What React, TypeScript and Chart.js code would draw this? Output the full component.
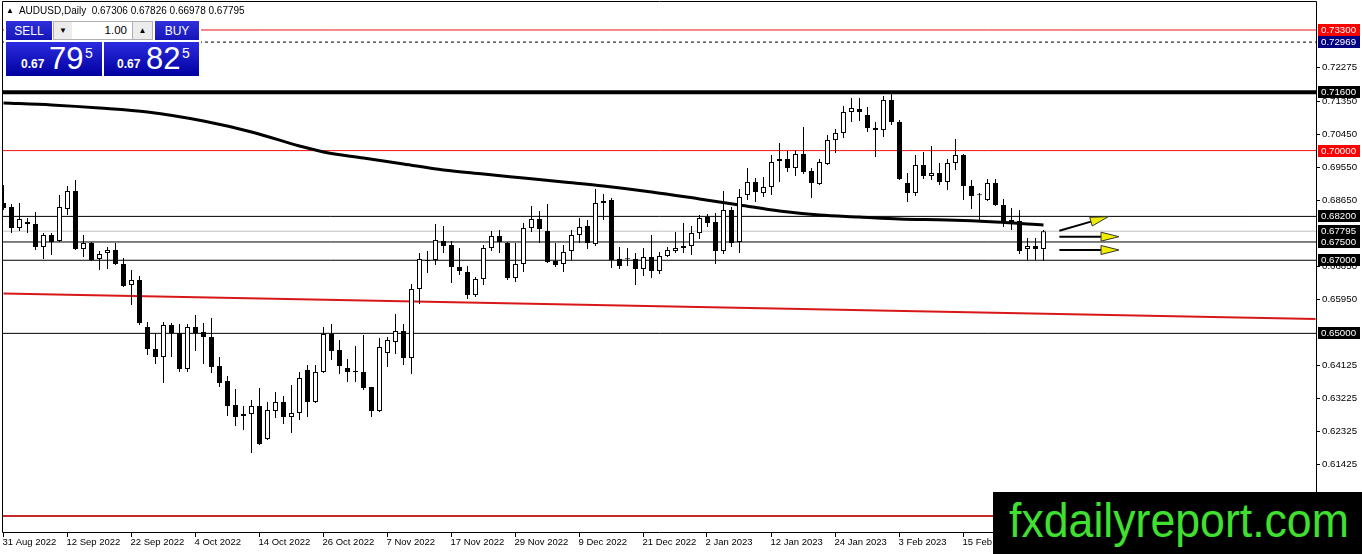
import React, { useEffect, useRef } from "react";
import { Chart, registerables } from "chart.js";
Chart.register(...registerables);

// ---------- data ----------
const dateLabels = [
  "31 Aug 2022", "12 Sep 2022", "22 Sep 2022", "4 Oct 2022", "14 Oct 2022", "26 Oct 2022",
  "7 Nov 2022", "17 Nov 2022", "29 Nov 2022", "9 Dec 2022", "21 Dec 2022", "2 Jan 2023",
  "12 Jan 2023", "24 Jan 2023", "3 Feb 2023", "15 Feb 2023",
];
const labelEvery = 8;

const opens = [
  0.68567, 0.68457, 0.67883, 0.68047, 0.67992, 0.67363, 0.67691, 0.67527, 0.68403, 0.68895,
  0.67308, 0.67473, 0.67035, 0.67199, 0.67281, 0.66898, 0.66323, 0.66460, 0.65174, 0.64572,
  0.64354, 0.65229, 0.65010, 0.64025, 0.65174, 0.65037, 0.64901, 0.64107, 0.63697, 0.63040,
  0.62794, 0.62794, 0.63013, 0.62110, 0.62876, 0.63122, 0.62712, 0.62821, 0.63998, 0.63122,
  0.63943, 0.64983, 0.64545, 0.64053, 0.63970, 0.63943, 0.63533, 0.62876, 0.64463, 0.64764,
  0.65065, 0.64326, 0.66214, 0.66980, 0.67007, 0.67527, 0.67418, 0.66816, 0.66679, 0.66050,
  0.66488, 0.67336, 0.67664, 0.67473, 0.66515, 0.66898, 0.67883, 0.68129, 0.67801, 0.66980,
  0.66898, 0.67254, 0.67691, 0.67938, 0.67445, 0.68567, 0.68649, 0.67035, 0.67035, 0.67035,
  0.66761, 0.67089, 0.66706, 0.67117, 0.67254, 0.67336, 0.67390, 0.67746, 0.68184, 0.68047,
  0.67254, 0.68375, 0.67500, 0.68786, 0.69142, 0.68841, 0.69005, 0.69771, 0.69771, 0.69525,
  0.69908, 0.69442, 0.69087, 0.69634, 0.70291, 0.70482, 0.71057, 0.71139, 0.70975, 0.70619,
  0.70564, 0.71385, 0.70783, 0.69114, 0.68841, 0.69607, 0.69306, 0.69388, 0.69142, 0.69661,
  0.69880, 0.69032, 0.68786, 0.68649, 0.69114, 0.68512, 0.68102, 0.68074, 0.67308, 0.67390,
  0.67306,
];
const highs = [
  0.69059, 0.68540, 0.68567, 0.68157, 0.68321, 0.67746, 0.67746, 0.68786, 0.69032, 0.69196,
  0.67691, 0.67500, 0.67254, 0.67363, 0.67473, 0.67062, 0.66734, 0.66570, 0.65311, 0.65010,
  0.65311, 0.65284, 0.65256, 0.65256, 0.65503, 0.65284, 0.65421, 0.64354, 0.63834, 0.63478,
  0.63013, 0.63177, 0.63505, 0.63122, 0.63396, 0.63286, 0.63587, 0.63943, 0.64135, 0.64135,
  0.65174, 0.65256, 0.64819, 0.64299, 0.64654, 0.64955, 0.63533, 0.64873, 0.64901, 0.65530,
  0.65256, 0.66351, 0.67199, 0.67254, 0.67992, 0.67938, 0.67527, 0.67336, 0.66843, 0.66542,
  0.67418, 0.67801, 0.67828, 0.67500, 0.67473, 0.68020, 0.68485, 0.68348, 0.68540, 0.67473,
  0.67418, 0.67828, 0.68157, 0.68102, 0.68950, 0.68813, 0.68704, 0.67363, 0.67336, 0.67199,
  0.67336, 0.67691, 0.67226, 0.67363, 0.67774, 0.68020, 0.67938, 0.68239, 0.68266, 0.68293,
  0.68895, 0.68457, 0.68950, 0.69525, 0.69251, 0.69278, 0.69880, 0.70209, 0.69990, 0.70017,
  0.70646, 0.69525, 0.69771, 0.70427, 0.70592, 0.71221, 0.71440, 0.71440, 0.71193, 0.70783,
  0.71494, 0.71604, 0.70838, 0.69388, 0.69880, 0.69962, 0.70126, 0.69661, 0.69771, 0.70318,
  0.69908, 0.69196, 0.68841, 0.69224, 0.69224, 0.68676, 0.68430, 0.68375, 0.67609, 0.67609,
  0.67826,
];
const lows = [
  0.68375, 0.67746, 0.67801, 0.67746, 0.67281, 0.67035, 0.67144, 0.67500, 0.68239, 0.67281,
  0.67089, 0.66980, 0.66734, 0.66761, 0.66871, 0.66269, 0.65776, 0.65229, 0.64408, 0.64162,
  0.63642, 0.64354, 0.63943, 0.63943, 0.64518, 0.64162, 0.63916, 0.63533, 0.62739, 0.62466,
  0.62356, 0.61727, 0.61946, 0.62083, 0.62685, 0.62520, 0.62274, 0.62630, 0.62712, 0.63095,
  0.63916, 0.64271, 0.63888, 0.63670, 0.63670, 0.63451, 0.62712, 0.62849, 0.64080, 0.64436,
  0.64135, 0.63888, 0.65804, 0.66652, 0.66871, 0.67199, 0.66378, 0.66597, 0.65940, 0.65995,
  0.66323, 0.67254, 0.67199, 0.66460, 0.66405, 0.66679, 0.67774, 0.67473, 0.66925, 0.66816,
  0.66679, 0.67007, 0.67473, 0.67308, 0.67390, 0.68102, 0.66789, 0.66761, 0.66843, 0.66323,
  0.66570, 0.66515, 0.66624, 0.67089, 0.67199, 0.67199, 0.67144, 0.67582, 0.67910, 0.66898,
  0.67172, 0.67363, 0.67199, 0.68649, 0.68594, 0.68731, 0.68786, 0.69142, 0.69415, 0.69306,
  0.69360, 0.68704, 0.69059, 0.69607, 0.69935, 0.70345, 0.70783, 0.70810, 0.70510, 0.69825,
  0.70373, 0.70701, 0.69196, 0.68594, 0.68758, 0.69224, 0.69196, 0.69059, 0.68923, 0.69470,
  0.68649, 0.68403, 0.68074, 0.68622, 0.68485, 0.67910, 0.67828, 0.67172, 0.67007, 0.67007,
  0.66978,
];
const closes = [
  0.68430, 0.67883, 0.68129, 0.67992, 0.67363, 0.67691, 0.67500, 0.68457, 0.68895, 0.67308,
  0.67473, 0.67007, 0.67172, 0.67281, 0.66898, 0.66296, 0.66460, 0.65284, 0.64572, 0.64354,
  0.65229, 0.65010, 0.64025, 0.65174, 0.65010, 0.64901, 0.64080, 0.63642, 0.63013, 0.62712,
  0.62739, 0.63013, 0.61973, 0.62903, 0.63122, 0.62712, 0.62821, 0.63779, 0.63122, 0.63943,
  0.64983, 0.64518, 0.64107, 0.63943, 0.63943, 0.63505, 0.62876, 0.64627, 0.64819, 0.65065,
  0.64326, 0.66214, 0.67035, 0.67007, 0.67555, 0.67390, 0.66816, 0.66706, 0.66050, 0.66488,
  0.67336, 0.67664, 0.67500, 0.66515, 0.66898, 0.67883, 0.68129, 0.67856, 0.66953, 0.66871,
  0.67226, 0.67691, 0.67910, 0.67473, 0.68567, 0.68622, 0.67007, 0.66843, 0.67030, 0.66761,
  0.67089, 0.66706, 0.67117, 0.67281, 0.67336, 0.67390, 0.67746, 0.68157, 0.68020, 0.67254,
  0.68375, 0.67473, 0.68731, 0.69142, 0.68868, 0.69005, 0.69689, 0.69716, 0.69525, 0.69908,
  0.69415, 0.69114, 0.69689, 0.70291, 0.70482, 0.71057, 0.71166, 0.71057, 0.70619, 0.70564,
  0.71385, 0.70783, 0.69224, 0.68841, 0.69607, 0.69306, 0.69388, 0.69142, 0.69661, 0.69880,
  0.69032, 0.68758, 0.68780, 0.69114, 0.68512, 0.68047, 0.68047, 0.67254, 0.67390, 0.67308,
  0.67795,
];

// slow moving average (black), sampled at bar indexes
const maBars = [0, 6, 12, 18, 25, 31, 37, 40, 45, 50, 55, 60, 65, 70, 75, 81, 87, 92, 97, 102, 107, 112, 118, 124, 130];
const maValues = [
  0.71303, 0.71248, 0.71166, 0.71057, 0.70810, 0.70510, 0.70126, 0.69962, 0.69798, 0.69634,
  0.69470, 0.69360, 0.69251, 0.69142, 0.69032, 0.68868, 0.68676, 0.68512, 0.68348, 0.68239,
  0.68184, 0.68129, 0.68102, 0.68047, 0.67965,
];

// red trend line
const trendBars = [0, 164];
const trendValues = [0.66091, 0.65394];

// horizontal levels
const levelValues = [0.733, 0.72969, 0.716, 0.7, 0.682, 0.67795, 0.675, 0.67, 0.65, 0.6];

// right axis tick labels
const yTickValues = [0.72275, 0.7135, 0.7045, 0.6955, 0.6865, 0.6685, 0.6595, 0.64125, 0.63225, 0.62325, 0.61425];
const boxValues = [0.733, 0.72969, 0.716, 0.7, 0.682, 0.67795, 0.675, 0.67, 0.65];

// arrows [startBar, startPrice, tipBar, tipPrice]
const arrowStartBars = [131.98, 131.98, 131.98];
const arrowStartPrices = [0.67809, 0.67645, 0.67281];
const arrowTipBars = [138.1, 139.44, 139.44];
const arrowTipPrices = [0.68192, 0.67645, 0.67281];

// header
const symbolText = "AUDUSD,Daily";
const ohlcText = "0.67306 0.67826 0.66978 0.67795";

// ---------- styles ----------
const levelStyles = [
  { c: "#ee1111", w: 1, d: [] as number[] },
  { c: "#000000", w: 1, d: [3, 3] },
  { c: "#000000", w: 4, d: [] },
  { c: "#ee1111", w: 1, d: [] },
  { c: "#000000", w: 1, d: [] },
  { c: "#c0c0c0", w: 1, d: [] },
  { c: "#000000", w: 1, d: [] },
  { c: "#000000", w: 1, d: [] },
  { c: "#000000", w: 1, d: [] },
  { c: "#c42a2a", w: 2, d: [] },
];
const boxColors = ["#ff0000", "#000080", "#000000", "#ff0000", "#000000", "#000000", "#000000", "#000000", "#000000"];
const FONT = "'Liberation Sans', Arial, sans-serif";

const X_MIN = -0.0625;
const X_MAX = 164.0625;
const Y_MIN = 0.59565;
const Y_MAX = 0.74066;

const mtPlugin = {
  id: "mtPlugin",
  afterDatasetsDraw(chart: any) {
    const { ctx, scales } = chart;
    const xs = scales.x;
    const ys = scales.y;
    ctx.save();
    for (let i = 0; i < arrowStartBars.length; i++) {
      const x0 = xs.getPixelForValue(arrowStartBars[i]);
      const y0 = ys.getPixelForValue(arrowStartPrices[i]);
      const x1 = xs.getPixelForValue(arrowTipBars[i]);
      const y1 = ys.getPixelForValue(arrowTipPrices[i]);
      const ang = Math.atan2(y1 - y0, x1 - x0);
      const L = 18;
      const W = 4.5;
      const bx = x1 - L * Math.cos(ang);
      const by = y1 - L * Math.sin(ang);
      ctx.strokeStyle = "#000";
      ctx.lineWidth = 2;
      ctx.beginPath();
      ctx.moveTo(x0, y0);
      ctx.lineTo(bx, by);
      ctx.stroke();
      ctx.beginPath();
      ctx.moveTo(x1, y1);
      ctx.lineTo(bx - W * Math.sin(ang), by + W * Math.cos(ang));
      ctx.lineTo(bx + W * Math.sin(ang), by - W * Math.cos(ang));
      ctx.closePath();
      ctx.fillStyle = "#f0ee00";
      ctx.fill();
      ctx.lineWidth = 1;
      ctx.strokeStyle = "#333";
      ctx.stroke();
    }
    ctx.restore();
  },
  afterDraw(chart: any) {
    const { ctx, chartArea: a, scales } = chart;
    const xs = scales.x;
    const ys = scales.y;
    ctx.save();
    // frame
    ctx.strokeStyle = "#000";
    ctx.lineWidth = 1;
    ctx.beginPath();
    ctx.moveTo(a.left - 0.5, a.top - 0.5);
    ctx.lineTo(a.left - 0.5, a.bottom + 0.5);
    ctx.lineTo(a.right + 0.5, a.bottom + 0.5);
    ctx.lineTo(a.right + 0.5, a.top - 0.5);
    ctx.closePath();
    ctx.stroke();

    // x labels
    ctx.font = `9.5px ${FONT}`;
    ctx.fillStyle = "#000";
    ctx.textAlign = "left";
    ctx.textBaseline = "middle";
    dateLabels.forEach((lab, j) => {
      const px = Math.round(xs.getPixelForValue(j * labelEvery)) - 0.5;
      ctx.beginPath();
      ctx.moveTo(px, a.bottom + 1);
      ctx.lineTo(px, a.bottom + 5);
      ctx.stroke();
      ctx.fillText(lab, px - 1, a.bottom + 10.5);
    });

    // y labels
    ctx.font = `9.7px ${FONT}`;
    yTickValues.forEach((v) => {
      const py = Math.round(ys.getPixelForValue(v)) + 0.5;
      ctx.beginPath();
      ctx.moveTo(a.right + 1, py);
      ctx.lineTo(a.right + 4, py);
      ctx.stroke();
      ctx.fillStyle = "#000";
      ctx.fillText(v.toFixed(5), a.right + 6, py);
    });
    boxValues.forEach((v, i) => {
      const py = ys.getPixelForValue(v);
      ctx.fillStyle = boxColors[i];
      ctx.fillRect(a.right + 2, Math.round(py - 6), 42, 12);
      ctx.fillStyle = "#fff";
      ctx.fillText(v.toFixed(5), a.right + 5, Math.round(py) + 0.5);
    });
    ctx.restore();
  },
};

export default function App() {
  const ref = useRef<HTMLCanvasElement>(null);
  useEffect(() => {
    if (!ref.current) return;
    const bodyData = opens.map((o, i) => ({ x: i, y: [o, closes[i]] }));
    const wickData = lows.map((l, i) => ({ x: i, y: [l, highs[i]] }));
    const bodyColors = opens.map((o, i) => (closes[i] >= o ? "#ffffff" : "#000000"));
    const maData = maBars.map((b, i) => ({ x: b, y: maValues[i] }));
    const trendData = trendBars.map((b, i) => ({ x: b, y: trendValues[i] }));
    const levelSets = levelValues.map((v, i) => ({
      type: "line" as const,
      data: [
        { x: X_MIN - 1, y: v },
        { x: X_MAX + 1, y: v },
      ],
      borderColor: levelStyles[i].c,
      borderWidth: levelStyles[i].w,
      borderDash: levelStyles[i].d,
      pointRadius: 0,
      fill: false,
      order: 10 + i,
    }));

    const chart = new Chart(ref.current, {
      type: "bar",
      data: {
        datasets: [
          {
            type: "bar",
            data: bodyData as any,
            backgroundColor: bodyColors,
            borderColor: "#000",
            borderWidth: 1,
            borderSkipped: false,
            barThickness: 5,
            minBarLength: 1,
            grouped: false,
            inflateAmount: 0,
            order: 0,
          } as any,
          {
            type: "bar",
            data: wickData as any,
            backgroundColor: "#000",
            borderWidth: 0,
            barThickness: 1,
            grouped: false,
            inflateAmount: 0,
            order: 1,
          } as any,
          {
            type: "line",
            data: maData,
            borderColor: "#000",
            borderWidth: 3,
            pointRadius: 0,
            cubicInterpolationMode: "monotone",
            fill: false,
            order: 2,
          } as any,
          {
            type: "line",
            data: trendData,
            borderColor: "#d81818",
            borderWidth: 2,
            pointRadius: 0,
            fill: false,
            order: 3,
          } as any,
          ...(levelSets as any[]),
        ],
      },
      options: {
        responsive: false,
        maintainAspectRatio: false,
        animation: false,
        devicePixelRatio: 1,
        events: [],
        layout: { padding: { left: 3, top: 2, right: 46, bottom: 22 } },
        scales: {
          x: { type: "linear", min: X_MIN, max: X_MAX, display: false, offset: false },
          y: { type: "linear", min: Y_MIN, max: Y_MAX, display: false },
        },
        plugins: { legend: { display: false }, tooltip: { enabled: false } },
      },
      plugins: [mtPlugin],
    });
    return () => chart.destroy();
  }, []);

  const blueBtn: React.CSSProperties = {
    position: "absolute",
    top: 21,
    height: 19,
    background: "linear-gradient(#3030dc, #1515b8)",
    color: "#fff",
    fontSize: 12,
    display: "flex",
    alignItems: "center",
    justifyContent: "center",
    fontFamily: FONT,
  };
  const priceBox: React.CSSProperties = {
    position: "absolute",
    top: 42,
    height: 34,
    background: "linear-gradient(#2c2ce0, #0000a0)",
    color: "#fff",
    fontFamily: FONT,
  };
  const span = (left: number, top: number, size: number, text: string, bold = false): React.ReactNode => (
    <span
      style={{
        position: "absolute",
        left,
        top,
        fontSize: size,
        lineHeight: 1,
        fontWeight: bold ? 700 : 400,
        whiteSpace: "nowrap",
      }}
    >
      {text}
    </span>
  );

  return (
    <div
      style={{
        position: "fixed",
        left: 0,
        top: 0,
        width: 1362,
        height: 554,
        background: "#fff",
        overflow: "hidden",
        fontFamily: FONT,
      }}
    >
      <canvas ref={ref} width={1362} height={554} style={{ position: "absolute", left: 0, top: 0, width: 1362, height: 554 }} />

      {/* header */}
      <div style={{ position: "absolute", left: 6, top: 4, fontSize: 10, lineHeight: "14px", color: "#000", whiteSpace: "pre" }}>
        <span style={{ fontSize: 8, verticalAlign: "1px" }}>▲</span>
        {"  " + symbolText + "  " + ohlcText}
      </div>

      {/* one-click trading panel */}
      <div style={{ position: "absolute", left: 4, top: 19, width: 197, height: 59, background: "#fff" }} />
      <div style={{ ...blueBtn, left: 6, width: 46 }}>SELL</div>
      <div
        style={{
          position: "absolute",
          left: 53,
          top: 21,
          width: 18,
          height: 17,
          background: "#ececec",
          border: "1px solid #b0b0b0",
          fontSize: 8,
          display: "flex",
          alignItems: "center",
          justifyContent: "center",
        }}
      >
        ▼
      </div>
      <div
        style={{
          position: "absolute",
          left: 72,
          top: 21,
          width: 60,
          height: 17,
          background: "#fff",
          borderTop: "1px solid #b0b0b0",
          borderBottom: "1px solid #b0b0b0",
          fontSize: 11.5,
          lineHeight: "17px",
          textAlign: "right",
          boxSizing: "content-box",
        }}
      >
        <span style={{ position: "absolute", right: 5, top: 0 }}>1.00</span>
      </div>
      <div
        style={{
          position: "absolute",
          left: 132,
          top: 21,
          width: 19,
          height: 17,
          background: "#ececec",
          border: "1px solid #b0b0b0",
          fontSize: 8,
          display: "flex",
          alignItems: "center",
          justifyContent: "center",
        }}
      >
        ▲
      </div>
      <div style={{ ...blueBtn, left: 155, width: 44 }}>BUY</div>

      <div style={{ ...priceBox, left: 6, width: 96 }}>
        {span(15, 16, 12, "0.67", true)}
        {span(43, 1, 31, "79")}
        {span(79, 4, 14, "5")}
      </div>
      <div style={{ ...priceBox, left: 104, width: 95 }}>
        {span(13, 16, 12, "0.67", true)}
        {span(42, 1, 31, "82")}
        {span(78, 4, 14, "5")}
      </div>

      {/* watermark */}
      <div style={{ position: "absolute", left: 993, top: 492, width: 369, height: 62, background: "#000", overflow: "hidden" }}>
        <span
          style={{
            position: "absolute",
            left: 16,
            top: 5,
            fontSize: 48,
            lineHeight: 1,
            color: "#3fe030",
            whiteSpace: "nowrap",
            transform: "scaleX(0.93)",
            transformOrigin: "left top",
          }}
        >
          fxdailyreport.com
        </span>
      </div>
    </div>
  );
}
